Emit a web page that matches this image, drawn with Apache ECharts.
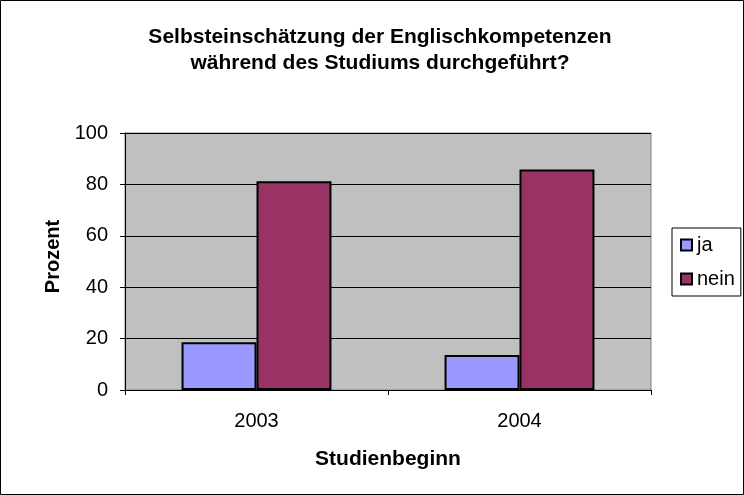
<!DOCTYPE html>
<html>
<head>
<meta charset="utf-8">
<script src="https://cdn.jsdelivr.net/npm/echarts@6/dist/echarts.min.js"></script>
<style>
  html, body { margin: 0; padding: 0; background: #fff; }
  #chart { width: 744px; height: 495px; }
</style>
</head>
<body>
<div id="chart"></div>
<script>
var categories = ['2003', '2004'];
var jaValues = [18.6, 13.6];
var neinValues = [81.2, 85.8];
var yTicks = { min: 0, max: 100, interval: 20 };

var chart = echarts.init(document.getElementById('chart'));

var font = 'Arial, "Liberation Sans", sans-serif';

var option = {
  animation: false,
  textStyle: { fontFamily: font, color: '#000' },
  title: {
    text: 'Selbsteinschätzung der Englischkompetenzen\nwährend des Studiums durchgeführt?',
    left: 375,
    textAlign: 'center',
    top: 19,
    textStyle: {
      fontFamily: font,
      fontSize: 21,
      fontWeight: 'bold',
      lineHeight: 26,
      color: '#000'
    }
  },
  legend: {
    orient: 'vertical',
    left: 672,
    top: 228,
    padding: [7, 6, 7, 8],
    itemGap: 14,
    icon: 'rect',
    itemWidth: 11,
    itemHeight: 11,
    borderColor: '#000',
    borderWidth: 1,
    backgroundColor: '#fff',
    textStyle: { fontFamily: font, fontSize: 20, color: '#000' },
    itemStyle: { borderColor: '#000', borderWidth: 2 },
    data: ['ja', 'nein']
  },
  grid: {
    left: 125,
    right: 93,
    top: 133,
    bottom: 105,
    show: true,
    backgroundColor: '#C0C0C0',
    borderColor: '#808080',
    borderWidth: 1
  },
  xAxis: {
    type: 'category',
    data: categories,
    name: 'Studienbeginn',
    nameLocation: 'middle',
    nameGap: 59,
    nameTextStyle: { fontFamily: font, fontSize: 21, fontWeight: 'bold', color: '#000' },
    axisLine: { show: true, lineStyle: { color: '#000', width: 1 } },
    axisTick: { show: true, length: 5, lineStyle: { color: '#000' } },
    axisLabel: { fontFamily: font, fontSize: 20, color: '#000', margin: 21 }
  },
  yAxis: {
    type: 'value',
    min: yTicks.min,
    max: yTicks.max,
    interval: yTicks.interval,
    name: 'Prozent',
    nameLocation: 'middle',
    nameGap: 60,
    nameRotate: 90,
    nameTextStyle: { fontFamily: font, fontSize: 20, fontWeight: 'bold', color: '#000', padding: [0, 0, 0, 10] },
    axisLine: { show: true, lineStyle: { color: '#000', width: 1 } },
    axisTick: { show: true, length: 5, lineStyle: { color: '#000' } },
    axisLabel: { fontFamily: font, fontSize: 20, color: '#000', margin: 17 },
    splitLine: { show: true, lineStyle: { color: '#000', width: 1 } }
  },
  series: [
    {
      name: 'ja',
      type: 'bar',
      data: jaValues,
      barGap: '0%',
      barCategoryGap: '43%',
      itemStyle: { color: '#9999FF', borderColor: '#000', borderWidth: 2 }
    },
    {
      name: 'nein',
      type: 'bar',
      data: neinValues,
      barGap: '0%',
      barCategoryGap: '43%',
      itemStyle: { color: '#993366', borderColor: '#000', borderWidth: 2 }
    }
  ],
  graphic: [
    {
      type: 'rect',
      silent: true,
      z: 100,
      shape: { x: 0.5, y: 0.5, width: 743, height: 494 },
      style: { fill: 'none', stroke: '#000', lineWidth: 1 }
    }
  ]
};

chart.setOption(option);
</script>
</body>
</html>
